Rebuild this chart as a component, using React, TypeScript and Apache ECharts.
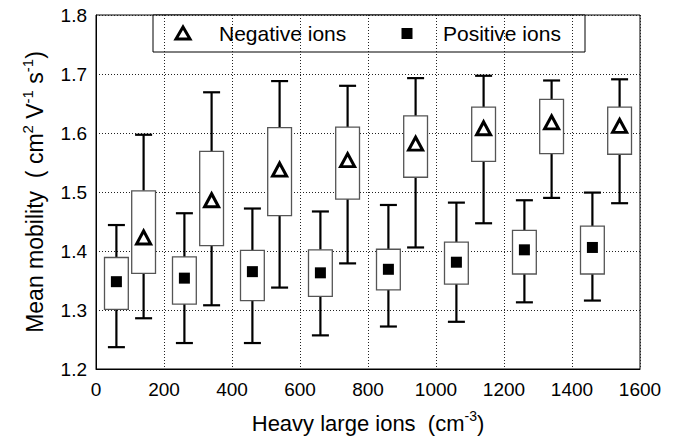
import React, { useEffect, useRef } from "react";
import * as echarts from "echarts";

const FONT = "'Liberation Sans', Arial, Helvetica, sans-serif";

// x positions (cm^-3)
const positiveX = [60, 260, 460, 660, 860, 1060, 1260, 1460];
const negativeX = [140, 340, 540, 740, 940, 1140, 1340, 1540];

// Positive ions: whisker low, box low, box high, whisker high, mean
const positiveLow = [1.237, 1.244, 1.244, 1.257, 1.272, 1.28, 1.313, 1.316];
const positiveQ1 = [1.301, 1.31, 1.316, 1.323, 1.334, 1.344, 1.361, 1.361];
const positiveQ3 = [1.389, 1.39, 1.401, 1.402, 1.403, 1.415, 1.435, 1.442];
const positiveHigh = [1.444, 1.464, 1.472, 1.467, 1.478, 1.482, 1.486, 1.499];
const positiveMean = [1.348, 1.354, 1.365, 1.363, 1.369, 1.381, 1.402, 1.406];

// Negative ions
const negativeLow = [1.286, 1.308, 1.338, 1.379, 1.406, 1.447, 1.49, 1.481];
const negativeQ1 = [1.362, 1.409, 1.46, 1.488, 1.525, 1.552, 1.565, 1.564];
const negativeQ3 = [1.502, 1.569, 1.609, 1.61, 1.629, 1.644, 1.657, 1.644];
const negativeHigh = [1.597, 1.669, 1.688, 1.68, 1.693, 1.697, 1.689, 1.691];
const negativeMean = [1.423, 1.486, 1.538, 1.554, 1.582, 1.608, 1.618, 1.612];

const legendLabels = ["Negative ions", "Positive ions"];

const BOX_W = 70; // data units
const CAP_W = 50;

function boxData(xs: number[], lo: number[], q1: number[], q3: number[], hi: number[]) {
  return xs.map((x, i) => [x, lo[i], q1[i], q3[i], hi[i]]);
}

function renderBox(params: any, api: any) {
  const x = api.value(0);
  const pLo = api.coord([x, api.value(1)]);
  const pQ1 = api.coord([x, api.value(2)]);
  const pQ3 = api.coord([x, api.value(3)]);
  const pHi = api.coord([x, api.value(4)]);
  const bw = api.size([BOX_W, 0])[0];
  const cw = api.size([CAP_W, 0])[0];
  const cx = pLo[0];
  const ls = { stroke: "#000", lineWidth: 2.2 };
  return {
    type: "group",
    children: [
      { type: "line", shape: { x1: cx, y1: pHi[1], x2: cx, y2: pQ3[1] }, style: ls },
      { type: "line", shape: { x1: cx, y1: pQ1[1], x2: cx, y2: pLo[1] }, style: ls },
      { type: "line", shape: { x1: cx - cw / 2, y1: pHi[1], x2: cx + cw / 2, y2: pHi[1] }, style: ls },
      { type: "line", shape: { x1: cx - cw / 2, y1: pLo[1], x2: cx + cw / 2, y2: pLo[1] }, style: ls },
      {
        type: "rect",
        shape: { x: cx - bw / 2, y: pQ3[1], width: bw, height: pQ1[1] - pQ3[1] },
        style: { fill: "#fff", stroke: "#555", lineWidth: 1.3 },
      },
    ],
  };
}

export default function App() {
  const ref = useRef<HTMLDivElement>(null);
  useEffect(() => {
    document.body.style.margin = "0";
    const chart = echarts.init(ref.current!, null, { renderer: "svg" });
    const option: any = {
      animation: false,
      backgroundColor: "#fff",
      grid: {
        left: 96,
        top: 15,
        width: 544,
        height: 354,
        show: true,
        borderColor: "#000",
        borderWidth: 1,
      },
      xAxis: {
        type: "value",
        min: 0,
        max: 1600,
        interval: 200,
        axisLine: { show: true, lineStyle: { color: "#000", width: 1 } },
        axisTick: { show: false },
        axisLabel: {
          color: "#000",
          fontSize: 19,
          fontFamily: FONT,
          margin: 11,
          formatter: (v: number) => String(v),
        },
        splitLine: { show: true, lineStyle: { color: "#222", type: [1, 2], width: 1 } },
        name: "{t|Heavy large ions  (cm}{s|-3}{t|)}",
        nameLocation: "middle",
        nameGap: 40,
        nameTextStyle: {
          rich: {
            t: { fontSize: 22, fontFamily: FONT, color: "#000", lineHeight: 28 },
            s: { fontSize: 14, fontFamily: FONT, color: "#000", lineHeight: 14, verticalAlign: "top" },
          },
        },
      },
      yAxis: {
        type: "value",
        min: 1.2,
        max: 1.8,
        interval: 0.1,
        axisLine: { show: true, lineStyle: { color: "#000", width: 1 } },
        axisTick: { show: false },
        axisLabel: {
          color: "#000",
          fontSize: 19,
          fontFamily: FONT,
          margin: 9,
          formatter: (v: number) => v.toFixed(1),
        },
        splitLine: { show: true, lineStyle: { color: "#222", type: [1, 2], width: 1 } },
        name: "{t|Mean mobility  ( cm}{s|2}{t| V}{s|-1}{t| s}{s|-1}{t|)}",
        nameLocation: "middle",
        nameRotate: 90,
        nameGap: 46,
        nameTextStyle: {
          rich: {
            t: { fontSize: 23, fontFamily: FONT, color: "#000", lineHeight: 30 },
            s: { fontSize: 15, fontFamily: FONT, color: "#000", lineHeight: 14, verticalAlign: "top" },
          },
        },
      },
      series: [
        {
          type: "custom",
          name: "Positive ions box",
          renderItem: renderBox,
          data: boxData(positiveX, positiveLow, positiveQ1, positiveQ3, positiveHigh),
          encode: { x: 0, y: [1, 2, 3, 4] },
          z: 2,
        },
        {
          type: "custom",
          name: "Negative ions box",
          renderItem: renderBox,
          data: boxData(negativeX, negativeLow, negativeQ1, negativeQ3, negativeHigh),
          encode: { x: 0, y: [1, 2, 3, 4] },
          z: 2,
        },
        {
          type: "scatter",
          name: legendLabels[0],
          symbol: "triangle",
          symbolSize: [14, 13],
          itemStyle: { color: "#fff", borderColor: "#000", borderWidth: 3, opacity: 1 },
          data: negativeX.map((x, i) => [x, negativeMean[i]]),
          z: 5,
        },
        {
          type: "scatter",
          name: legendLabels[1],
          symbol: "rect",
          symbolSize: 11,
          itemStyle: { color: "#000", opacity: 1 },
          data: positiveX.map((x, i) => [x, positiveMean[i]]),
          z: 5,
        },
      ],
      graphic: [
        {
          type: "group",
          z: 100,
          children: [
            {
              type: "rect",
              shape: { x: 153, y: 15, width: 432, height: 37 },
              style: { fill: "#fff", stroke: "#000", lineWidth: 1 },
            },
            {
              type: "polygon",
              shape: { points: [[183, 27], [176, 39], [190, 39]] },
              style: { fill: "#fff", stroke: "#000", lineWidth: 3, lineJoin: "miter" },
            },
            {
              type: "text",
              x: 219,
              y: 33.5,
              style: { text: legendLabels[0], fontSize: 21, fontFamily: FONT, fill: "#000", verticalAlign: "middle" },
            },
            {
              type: "rect",
              shape: { x: 401.5, y: 28, width: 11, height: 11 },
              style: { fill: "#000" },
            },
            {
              type: "text",
              x: 443,
              y: 33.5,
              style: { text: legendLabels[1], fontSize: 21, fontFamily: FONT, fill: "#000", verticalAlign: "middle" },
            },
          ],
        },
      ],
    };
    chart.setOption(option);
    return () => chart.dispose();
  }, []);
  return <div ref={ref} style={{ width: 673, height: 440 }} />;
}
